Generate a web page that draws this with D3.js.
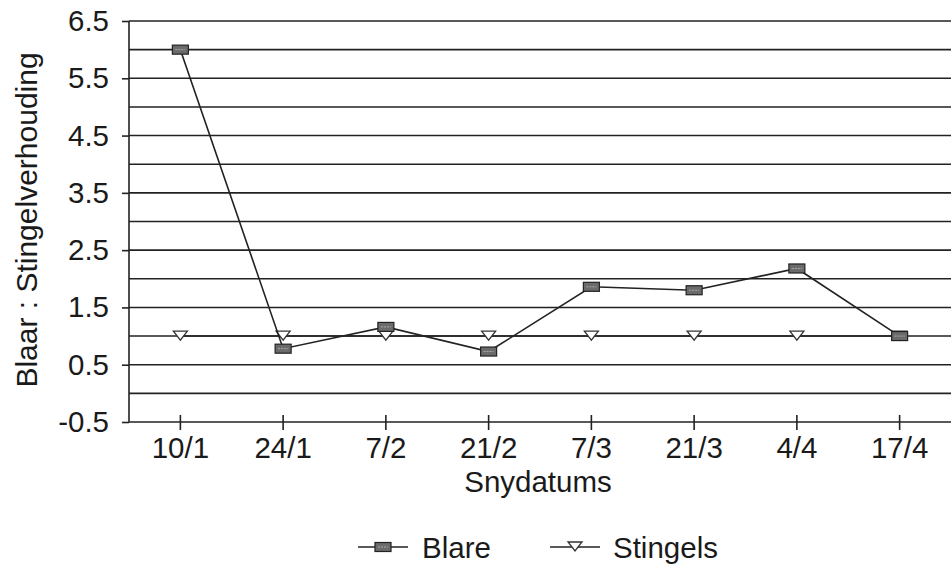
<!DOCTYPE html>
<html><head><meta charset="utf-8">
<script src="https://cdn.jsdelivr.net/npm/d3@7/dist/d3.min.js"></script>
<style>body{margin:0;background:#fff}svg{display:block}text{font-family:"Liberation Sans",Arial,sans-serif;fill:#1a1a1a}</style>
</head><body><svg id="c" width="952" height="569"></svg>
<script>
const categories = ["10/1","24/1","7/2","21/2","7/3","21/3","4/4","17/4"];
const blare = [6.0, 0.78, 1.16, 0.73, 1.86, 1.80, 2.18, 1.0];
const stingels = [1.0, 1.0, 1.0, 1.0, 1.0, 1.0, 1.0, 1.0];
const yTickLabels = ["-0.5", "0.5", "1.5", "2.5", "3.5", "4.5", "5.5", "6.5"];

(function () {
const FS = 29.5;
const svg = d3.select("#c");
const mLeft = 129, mRight = 951, mTop = 21, mBottom = 422;
const x = d3.scaleBand().domain(categories).range([mLeft, mRight]);
const y = d3.scaleLinear().domain([-0.5, 6.5]).range([mBottom, mTop]);
const cx = d => x(d) + x.bandwidth() / 2;

// gridlines every 0.5
svg.append("g").selectAll("line").data(d3.range(-0.5, 6.51, 0.5)).join("line")
  .attr("x1", mLeft).attr("x2", mRight)
  .attr("y1", d => y(d)).attr("y2", d => y(d))
  .attr("stroke", "#222").attr("stroke-width", 1.6);

// y axis
const yAxis = d3.axisLeft(y).tickValues(yTickLabels.map(Number))
  .tickFormat((d, i) => yTickLabels[i]).tickSize(7).tickPadding(13);
const ya = svg.append("g").attr("transform", `translate(${mLeft},0)`).call(yAxis);
ya.select(".domain").attr("stroke", "#222").attr("stroke-width", 1.6).attr("d", `M0,${mTop}V${mBottom}`);
ya.selectAll(".tick line").attr("stroke", "#222").attr("stroke-width", 1.6);
ya.selectAll(".tick text").attr("font-size", FS).attr("fill", "#1a1a1a").attr("font-family", "Liberation Sans, Arial, sans-serif");

// x axis
const xAxis = d3.axisBottom(x).tickSize(0).tickPadding(15);
const xa = svg.append("g").attr("transform", `translate(0,${mBottom})`).call(xAxis);
xa.select(".domain").remove();
xa.selectAll(".tick line").remove();
xa.selectAll(".tick").append("line").attr("y1", -7).attr("y2", 8).attr("stroke", "#222").attr("stroke-width", 1.6);
xa.selectAll(".tick text").attr("font-size", FS).attr("fill", "#1a1a1a").attr("font-family", "Liberation Sans, Arial, sans-serif");

// axis titles
svg.append("text").attr("x", 538).attr("y", 492).attr("text-anchor", "middle").attr("font-size", FS).text("Snydatums");
svg.append("text").attr("transform", "translate(37,220) rotate(-90)").attr("text-anchor", "middle").attr("font-size", 30).text("Blaar : Stingelverhouding");

const line = d3.line().x((d, i) => cx(categories[i])).y(d => y(d));

function drawRect(sel, px, py) {
  sel.append("rect").attr("x", px - 8).attr("y", py - 4.5).attr("width", 16).attr("height", 9)
    .attr("fill", "#6b6b6b").attr("stroke", "#222").attr("stroke-width", 1.2);
  sel.append("line").attr("x1", px - 5).attr("x2", px + 5).attr("y1", py).attr("y2", py)
    .attr("stroke", "#aaa").attr("stroke-width", 1).attr("stroke-dasharray", "2,1");
}
function drawTri(sel, px, py) {
  sel.append("path").attr("d", `M${px - 7},${py - 5}L${px + 7},${py - 5}L${px},${py + 4}Z`)
    .attr("fill", "#fff").attr("stroke", "#333").attr("stroke-width", 1.3);
}

// Stingels
svg.append("path").datum(stingels).attr("d", line).attr("fill", "none").attr("stroke", "#222").attr("stroke-width", 1.5);
const sg = svg.append("g");
stingels.forEach((v, i) => drawTri(sg, cx(categories[i]), y(v)));
// Blare
svg.append("path").datum(blare).attr("d", line).attr("fill", "none").attr("stroke", "#222").attr("stroke-width", 1.6);
const bg = svg.append("g");
blare.forEach((v, i) => drawRect(bg, cx(categories[i]), y(v)));

// legend
const lg = svg.append("g");
const ly = 547;
lg.append("line").attr("x1", 358).attr("x2", 408).attr("y1", ly).attr("y2", ly).attr("stroke", "#222").attr("stroke-width", 1.6);
drawRect(lg, 383, ly);
lg.append("text").attr("x", 422).attr("y", ly + 11).attr("font-size", FS).text("Blare");
lg.append("line").attr("x1", 550).attr("x2", 600).attr("y1", ly).attr("y2", ly).attr("stroke", "#222").attr("stroke-width", 1.6);
drawTri(lg, 575, ly);
lg.append("text").attr("x", 613).attr("y", ly + 11).attr("font-size", FS).text("Stingels");
})();
</script></body></html>
